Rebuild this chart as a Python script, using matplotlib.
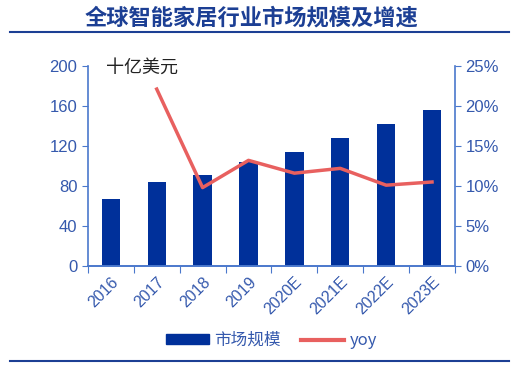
import matplotlib.pyplot as plt
import numpy as np
from matplotlib.lines import Line2D
from matplotlib.patches import Patch

plt.rcParams['font.family'] = ['Liberation Sans', 'Noto Sans CJK SC', 'DejaVu Sans']

years = ['2016', '2017', '2018', '2019', '2020E', '2021E', '2022E', '2023E']
market = [67, 84, 91, 104, 114, 128, 142, 156]
yoy = [None, 22.1, 9.8, 13.2, 11.6, 12.2, 10.1, 10.5]

bar_c = '#00309a'
line_c = '#e8605f'
axis_c = '#4a78cc'
tick_c = '#3559ad'
cjk = ['Noto Sans CJK SC', 'DejaVu Sans']

fig = plt.figure(figsize=(5.17, 3.68), dpi=100)
ax = fig.add_axes([0.170, 0.277, 0.710, 0.544])
x = np.arange(len(years))
ax.bar(x, market, width=0.4, color=bar_c, zorder=2)
ax.set_xlim(-0.5, len(years) - 0.5)
ax.set_ylim(0, 200)
ax.set_yticks([0, 40, 80, 120, 160, 200])

ax2 = ax.twinx()
yx = [i for i, v in enumerate(yoy) if v is not None]
yv = [v for v in yoy if v is not None]
ax2.plot(yx, yv, color=line_c, lw=2.5, zorder=3)
ax2.set_ylim(0, 25)
ax2.set_yticks([0, 5, 10, 15, 20, 25])
ax2.set_yticklabels([f'{t}%' for t in [0, 5, 10, 15, 20, 25]])

ax.set_xticks(np.arange(len(years) + 1) - 0.5, minor=False)
ax.set_xticklabels([])
ax.set_xticks(x, minor=True)
ax.set_xticklabels(years, minor=True, rotation=45, ha='right', rotation_mode='anchor')
ax.tick_params(axis='x', which='minor', length=0, pad=6, labelcolor=tick_c, labelsize=11.5)
ax.tick_params(axis='x', which='major', length=5, color=axis_c, direction='out')

for a in (ax, ax2):
    a.spines['top'].set_visible(False)
    for s in ['left', 'right', 'bottom']:
        a.spines[s].set_color(axis_c)
        a.spines[s].set_linewidth(1.2)
ax.spines['right'].set_visible(False)
ax2.spines['left'].set_visible(False)
ax.tick_params(axis='y', color=axis_c, labelcolor=tick_c, labelsize=12, length=4)
ax2.tick_params(axis='y', color=axis_c, labelcolor=tick_c, labelsize=12, length=4)

ax.text(0.05, 0.99, '十亿美元', transform=ax.transAxes, fontsize=13, color='#222222',
        va='center', ha='left', family=cjk)

fig.text(0.486, 0.951, '全球智能家居行业市场规模及增速', ha='center', va='center',
         fontsize=16, fontweight='bold', color='#1c3f94', family=cjk)
fig.add_artist(Line2D([0.02, 0.985], [0.913, 0.913], color='#1c3f94', lw=1.5))
fig.add_artist(Line2D([0.02, 0.985], [0.020, 0.020], color='#1c3f94', lw=1.5))

handles = [Patch(color=bar_c, label='市场规模'), Line2D([], [], color=line_c, lw=3, label='yoy')]
leg = fig.legend(handles=handles, loc='center', bbox_to_anchor=(0.525, 0.075), ncol=2,
                 frameon=False, prop={'family': cjk, 'size': 12}, handlelength=2.6,
                 handleheight=0.5, columnspacing=1.2, handletextpad=0.3)
for t in leg.get_texts():
    t.set_color(tick_c)

fig.savefig('out.png', dpi=100)
